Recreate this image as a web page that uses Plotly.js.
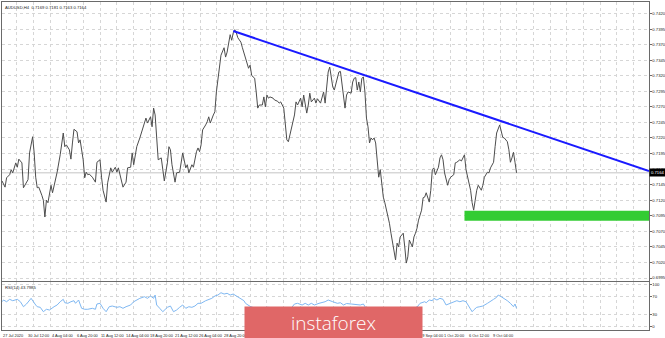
<!DOCTYPE html>
<html>
<head>
<meta charset="utf-8">
<script src="https://cdn.plot.ly/plotly-3.0.1.min.js"></script>
<style>html,body{margin:0;padding:0;background:#fff;}#chart{width:665px;height:338px;}</style>
</head>
<body>
<div id="chart"></div>
<script>
// ---- data (H4 bars, index from first visible bar) ----
const priceBars = [
0,2,3,5,6,7,9,10,11,13,14,16,17,18,20,21,22,23,24,26,
27,28,29,30,32,33,35,36,38,40,41,42,44,45,46,47,49,50,51,53,
54,55,56,57,59,61,62,64,65,66,68,69,71,72,74,75,76,78,79,81,
82,84,85,86,88,90,91,93,94,95,97,98,99,100,101,102,104,105,106,108,
109,110,111,113,114,116,118,120,121,122,124,125,127,128,129,130,131,133,134,135,
136,138,139,140,141,142,143,145,146,147,148,149,150,151,152,153,154,156,157,159,
160,161,162,163,164,165,166,167,168,170,171,172,173,174,175,177,178,180,181,182,
184,185,186,187,188,189,191,192,193,195,196,197,199,200,201,202,204,205,206,208,
209,210,211,212,213,214,215,216,217,219,220,221,222,224,225,226,228,229,230,231,
232,233,234,235,236,237,238,239,240,241,242,243,244,245,246,247,248,249,250,252,
253,254,255,256,257,258,259,260,262,263,264,265,266,268,269,270,271,272,274,275,
276,277,279,280,281,282,283,285,286,287,288,289,291,292,293,295,296,297,299,300,
301,302,303,304,306,307,308,309,310,311,313,314,315,317,318,319,321,322,323,325,
326,327,328,330,331,332,333,334,335,336];
const priceClose = [
0.7151,0.7141,0.7156,0.7161,0.7169,0.7164,0.7180,0.7173,0.7186,0.7180,0.7140,0.7149,0.7153,0.7196,0.7222,0.7196,0.7157,0.7140,0.7141,0.7128,
0.7120,0.7093,0.7120,0.7116,0.7144,0.7132,0.7153,0.7165,0.7193,0.7228,0.7206,0.7209,0.7201,0.7186,0.7212,0.7234,0.7230,0.7212,0.7217,0.7185,
0.7156,0.7165,0.7161,0.7162,0.7157,0.7149,0.7181,0.7185,0.7157,0.7136,0.7117,0.7148,0.7172,0.7165,0.7173,0.7165,0.7172,0.7153,0.7141,0.7149,
0.7172,0.7173,0.7196,0.7177,0.7206,0.7220,0.7228,0.7241,0.7252,0.7244,0.7254,0.7238,0.7268,0.7257,0.7217,0.7185,0.7188,0.7165,0.7151,0.7180,
0.7206,0.7201,0.7177,0.7149,0.7164,0.7165,0.7196,0.7172,0.7177,0.7164,0.7177,0.7173,0.7198,0.7204,0.7198,0.7209,0.7233,0.7241,0.7246,0.7254,
0.7244,0.7257,0.7262,0.7294,0.7316,0.7337,0.7353,0.7365,0.7350,0.7358,0.7373,0.7386,0.7377,0.7389,0.7394,0.7389,0.7381,0.7374,0.7365,0.7349,
0.7337,0.7332,0.7337,0.7321,0.7318,0.7316,0.7294,0.7268,0.7273,0.7273,0.7286,0.7270,0.7289,0.7284,0.7286,0.7284,0.7281,0.7279,0.7276,0.7278,
0.7268,0.7246,0.7217,0.7214,0.7225,0.7236,0.7257,0.7278,0.7273,0.7284,0.7270,0.7289,0.7260,0.7273,0.7292,0.7278,0.7284,0.7276,0.7283,0.7276,
0.7284,0.7294,0.7276,0.7300,0.7326,0.7334,0.7321,0.7302,0.7297,0.7316,0.7326,0.7327,0.7310,0.7268,0.7289,0.7294,0.7292,0.7310,0.7316,0.7317,
0.7297,0.7310,0.7294,0.7316,0.7318,0.7294,0.7252,0.7238,0.7212,0.7220,0.7217,0.7220,0.7212,0.7188,0.7157,0.7169,0.7141,0.7125,0.7116,0.7096,
0.7083,0.7067,0.7051,0.7040,0.7024,0.7051,0.7045,0.7061,0.7067,0.7045,0.7019,0.7029,0.7056,0.7045,0.7061,0.7067,0.7075,0.7088,0.7104,0.7124,
0.7125,0.7132,0.7117,0.7136,0.7169,0.7172,0.7161,0.7173,0.7188,0.7193,0.7185,0.7164,0.7144,0.7153,0.7157,0.7161,0.7180,0.7181,0.7185,0.7183,
0.7188,0.7193,0.7169,0.7157,0.7136,0.7116,0.7104,0.7120,0.7136,0.7144,0.7136,0.7144,0.7157,0.7165,0.7164,0.7172,0.7181,0.7206,0.7228,0.7241,
0.7230,0.7221,0.7220,0.7214,0.7201,0.7181,0.7188,0.7197,0.7181,0.7164];

const rsiBars = [
0,1,3,5,7,10,12,14,16,17,19,22,23,25,27,29,31,34,36,38,
40,41,43,45,47,48,50,52,54,56,59,61,62,64,66,68,70,72,75,77,
79,81,84,86,88,90,93,95,97,99,100,101,103,105,108,110,112,114,116,118,
120,122,124,126,128,130,133,135,137,139,141,143,145,147,149,151,153,155,158,159,
162,165,167,170,173,176,180,184,186,188,190,191,193,196,198,200,202,204,207,209,
211,213,214,216,219,221,223,225,228,231,234,236,238,241,245,248,251,254,257,259,
262,264,266,268,271,273,276,277,279,281,282,284,286,288,290,293,295,297,299,301,
303,305,307,308,310,312,314,317,319,321,323,324,326,328,330,332,334,335,336];
const rsiValues = [
58.8,62.8,58.8,64.4,61.2,64.4,58.8,47.2,53.5,58.8,66.7,51.2,47.2,45.8,35.6,41.2,39.5,47.2,51.2,58.8,
64.4,56.5,55.1,58.8,61.2,55.1,62.8,43.5,41.2,41.2,43.5,41.2,53.5,55.1,43.5,35.6,47.2,48.8,45.8,47.2,
43.5,47.2,51.2,58.8,62.8,66.7,70.5,66.7,72.1,66.7,74.4,51.2,43.5,35.6,45.8,48.8,35.6,39.5,45.8,51.2,
43.5,47.2,45.8,48.8,55.1,55.1,61.2,64.4,66.7,72.1,74.4,79.8,76.7,78.4,74.4,76.7,72.1,66.7,61.2,55.1,
48,44,38,42,46,45,43,39,33,40,48,53.5,55.1,51.2,55.1,51.2,55.1,51.2,55.1,56.5,
58.8,62.8,62,58.8,55.1,56.5,51.2,54.6,53.5,52.3,51.2,53.5,42,38,32,28,25,22,19,25,
28,22,30,33,45,55.1,58.8,56.5,62.8,61.2,66.7,62.8,66.7,64.4,51.2,55.1,58.8,61.2,58.8,61.2,
58.8,47.2,35.6,39.5,45.8,47.2,48.8,55.1,58.8,64.4,69.1,74.4,70.5,66.7,61.2,55.1,47.2,53.5,43.8];

const priceTicks = [0.6995,0.7020,0.7045,0.7070,0.7095,0.7120,0.7145,0.7170,0.7195,0.7220,
                    0.7245,0.7270,0.7295,0.7320,0.7345,0.7370,0.7395,0.7420];
const rsiLevels = [0,30,70,100];
// time labels visible in the reference (those under the watermark are not readable)
const timeLabels = ["27 Jul 2020","30 Jul 12:00","4 Aug 04:00","6 Aug 20:00","11 Aug 12:00",
  "14 Aug 04:00","18 Aug 20:00","21 Aug 12:00","26 Aug 04:00","28 Aug 20:00",
  "29 Sep 04:00","1 Oct 20:00","6 Oct 12:00","9 Oct 04:00"];
const timeLabelBars = [0,16,32,48,64,80,96,112,128,144,272,288,304,320];

const trendBars = [151, 422.5];
const trendPrices = [0.7392, 0.7167];
const zoneBars = [302, 422.5];
const zonePrices = [0.7087, 0.7103];
const lastPrice = 0.7164;
const headerText = "AUDUSD,H4  0.7169 0.7181 0.7163 0.7164";
const rsiText = "RSI(14) 43.7985";

// ---- chart ----
const smallFont = {family: "Liberation Sans, Arial, sans-serif", size: 4.2, color: "#222"};
const timeFont = {family: "Liberation Sans, Arial, sans-serif", size: 3.9, color: "#222"};
const gridCommon = {showgrid: true, gridcolor: "#d6d6d6", griddash: "dot", gridwidth: 1,
  zeroline: false, showline: true, mirror: true, linecolor: "#6a6a6a", linewidth: 1};

const traces = [
  {x: priceBars, y: priceClose, type: "scatter", mode: "lines", xaxis: "x", yaxis: "y",
   line: {color: "#4d4d4d", width: 1}, hoverinfo: "skip"},
  {x: trendBars, y: trendPrices, type: "scatter", mode: "lines", xaxis: "x", yaxis: "y",
   line: {color: "#1a1aff", width: 2}, hoverinfo: "skip"},
  {x: rsiBars, y: rsiValues, type: "scatter", mode: "lines", xaxis: "x2", yaxis: "y2",
   line: {color: "#7fb8f2", width: 1}, hoverinfo: "skip"}
];

const annotations = [
  {xref: "paper", yref: "paper", x: 0, y: 1, xanchor: "left", yanchor: "top", xshift: 1, yshift: -1,
   text: headerText, showarrow: false, font: smallFont},
  {xref: "paper", yref: "paper", x: 0, y: 0.1463, xanchor: "left", yanchor: "top", xshift: 1, yshift: -1,
   text: rsiText, showarrow: false, font: smallFont},
  {xref: "paper", yref: "y", x: 1, y: lastPrice, xanchor: "left", yanchor: "middle", xshift: 0,
   text: lastPrice.toFixed(4), showarrow: false, bgcolor: "#000", borderpad: 1,
   font: Object.assign({}, smallFont, {color: "#fff"})}
];
timeLabels.forEach((t, i) => {
  annotations.push({xref: "x2", yref: "paper", x: timeLabelBars[i], y: 0, xanchor: "left", yanchor: "top",
    yshift: -0.5, xshift: -1, text: t, showarrow: false, font: timeFont});
});
annotations.push({xref: "paper", yref: "paper", x: 0.5122, y: 0.0213, xanchor: "center", yanchor: "middle",
  width: 177, height: 32, borderpad: 0, bgcolor: "#e06767", text: "instaforex", showarrow: false,
  font: {family: "Open Sans, sans-serif", size: 19, color: "#ffffff", weight: 300}});

const layout = {
  width: 665, height: 338,
  margin: {l: 2, r: 16, t: 2, b: 8},
  paper_bgcolor: "#ffffff", plot_bgcolor: "#ffffff",
  showlegend: false,
  xaxis: Object.assign({domain: [0, 1], anchor: "y", range: [0, 422.5], tickmode: "linear",
    tick0: -1.306, dtick: 10.884, showticklabels: false, ticks: ""}, gridCommon),
  yaxis: Object.assign({domain: [0.1494, 1], anchor: "x", side: "right", range: [0.69902, 0.74385],
    tickmode: "array", tickvals: priceTicks, ticktext: priceTicks.map(v => v.toFixed(4)),
    tickfont: smallFont, ticks: "outside", ticklen: 1.5, tickcolor: "#6a6a6a"}, gridCommon),
  xaxis2: Object.assign({domain: [0, 1], anchor: "y2", matches: "x", range: [0, 422.5], tickmode: "linear",
    tick0: -1.306, dtick: 10.884, showticklabels: false, ticks: ""}, gridCommon),
  yaxis2: Object.assign({domain: [0, 0.1463], anchor: "x2", side: "right", range: [-7, 104.7],
    tickmode: "array", tickvals: rsiLevels, ticktext: rsiLevels.map(String),
    tickfont: smallFont, ticks: "outside", ticklen: 1.5, tickcolor: "#6a6a6a"}, gridCommon),
  shapes: [
    {type: "line", xref: "paper", yref: "y", x0: 0, x1: 1, y0: lastPrice, y1: lastPrice,
     line: {color: "#c4c4c4", width: 1}, layer: "below"},
    {type: "rect", xref: "x", yref: "y", x0: zoneBars[0], x1: zoneBars[1], y0: zonePrices[0], y1: zonePrices[1],
     fillcolor: "#33cc33", line: {width: 0}, layer: "above"}
  ],
  annotations: annotations
};

Plotly.newPlot("chart", traces, layout, {staticPlot: true, displayModeBar: false});
</script>
</body>
</html>
